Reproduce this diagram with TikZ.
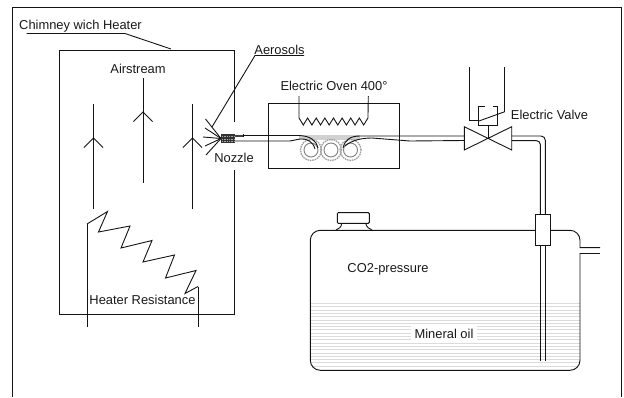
\documentclass[tikz,border=0pt]{standalone}
\usepackage{fontspec}
\setmainfont{Liberation Sans}
\tikzset{
  px/.style={x=1pt,y=-1pt},
  ln/.style={draw=black!92,line width=0.95pt,line cap=butt,line join=miter},
  thin ln/.style={draw=black!92,line width=0.9pt},
  lab/.style={inner sep=0pt,text=black!90,font=\fontsize{12.9}{14}\selectfont},
  hatchline/.style={draw=black!14,line width=0.9pt},
  coil/.style={draw=black!38,line width=1.3pt,dash pattern=on 1.6pt off 0.8pt},
  coilin/.style={draw=black!50,line width=0.9pt}
}
\begin{document}
\begin{tikzpicture}[px]
\useasboundingbox (0,0) rectangle (624,397);
% outer frame
\draw[ln] (12.5,397) -- (12.5,7.5) -- (621.5,7.5) -- (621.5,397);
% chimney
\draw[ln] (234.3,122) -- (234.3,50.5) -- (59.5,50.5) -- (59.5,314.7) -- (234.3,314.7) -- (234.3,170);
\draw[thin ln] (26.5,33.5) -- (125,33.5) -- (171,49);
% airstream arrows
\foreach \ax/\ay in {93.5/104,143/78,192.5/104}{
  \draw[ln] (\ax,\ay) -- (\ax,\ay+105);
  \draw[thin ln] (\ax-9.5,\ay+43.5) -- (\ax,\ay+34) -- (\ax+9.5,\ay+43.5);
}
% heater resistance
\draw[ln] (87,327) -- (87,224);
\draw[thin ln] (87,224) -- (107.5,211.5) -- (98.5,232) -- (130,226) -- (121,248) -- (152,240.5) -- (143,262) -- (174.5,255) -- (165.5,278) -- (196,270.5) -- (185,293.5) -- (198,286.5);
\draw[ln] (198,286.5) -- (198,327);
% aerosols leader and spray
\draw[thin ln] (304,55.5) -- (255,55.5) -- (212,127);
\foreach \sx/\sy in {205.5/119,205/128,203/137,205/146,206/155}{
  \draw[thin ln] (221,138.5) -- (\sx,\sy);
}
% coils
\fill[black!18] (299,135) rectangle (360,140);
\foreach \cx in {311,331,350.5}{
  \draw[coil] (\cx,150) circle[radius=10.5pt];
  \draw[coilin] (\cx,150) circle[radius=7pt];
}
% pipe to nozzle and through oven
\draw[thin ln] (243,135.5) -- (299,135.5) .. controls (310,136) and (316,140) .. (318,148);
\draw[thin ln] (234.5,141) -- (290,141) -- (300,139) .. controls (308,138.5) and (313,142) .. (315,149);
\draw[thin ln] (343,148) .. controls (345,140) and (350,136) .. (360,136) -- (464.3,136);
\draw[thin ln] (345,146) .. controls (352,140) and (362,138) .. (372,138) -- (410,141) -- (464.3,140.5);
\draw[line width=1.5pt,draw=black!75] (234.5,136) -- (243,136);
\draw[thin ln] (243,134) -- (243,137);
% nozzle
\fill[black!80] (221,134) rectangle (234.5,143.3);
\draw[draw=black!35,line width=0.7pt,dash pattern=on 0.8pt off 0.9pt] (222,136.5) -- (234,136.5);
\draw[draw=black!35,line width=0.7pt,dash pattern=on 0.8pt off 0.9pt] (222,139) -- (234,139);
\draw[draw=black!35,line width=0.7pt,dash pattern=on 0.8pt off 0.9pt] (222,141.5) -- (234,141.5);
% oven
\draw[ln] (268.3,103.3) rectangle (399.3,168.3);
\draw[thin ln] (299,96) -- (299,118) -- ++(4.31,7) -- ++(4.31,-7) -- ++(4.31,7) -- ++(4.31,-7) -- ++(4.31,7) -- ++(4.31,-7) -- ++(4.31,7) -- ++(4.31,-7) -- ++(4.31,7) -- ++(4.31,-7) -- ++(4.31,7) -- ++(4.31,-7) -- ++(4.31,7) -- ++(4.31,-7) -- ++(4.31,7) -- ++(4.31,-7) -- (368.3,96);
% valve
\draw[thin ln] (464.3,126.7) -- (464.3,150) -- (511.7,126.7) -- (511.7,150) -- cycle;
\draw[ln] (488,138.3) -- (488,125.3);
\draw[thin ln] (485,106.7) -- (478.7,106.7) -- (478.7,125.3) -- (497.3,125.3) -- (497.3,106.7) -- (493.3,106.7);
\draw[thin ln] (469.7,67.3) -- (469.7,120) -- (479,120);
\draw[thin ln] (479,121) -- (504.7,111.7);
\draw[ln] (504.7,67.3) -- (504.7,111.7);
% pipe to tank
\draw[ln] (511.7,136) -- (541,136) arc[start angle=90,end angle=0,radius=4.3pt] -- (545.3,214);
\draw[ln] (511.7,140.7) -- (536.5,140.7) arc[start angle=90,end angle=0,radius=3.8pt] -- (540.3,214);
% tank
\begin{scope}
\clip[rounded corners=10pt] (310.3,230.3) rectangle (580,370.3);
\foreach \hy in {303.5,306.8,...,369}{
  \draw[hatchline] (310,\hy) -- (580,\hy);
}
\end{scope}
\draw[ln,rounded corners=10pt] (535.3,230.3) -- (310.3,230.3) -- (310.3,370.3) -- (580,370.3) -- (580,253);
\draw[ln] (550.7,230.3) -- (570,230.3) arc[start angle=90,end angle=0,radius=10pt] -- (580,247.7) -- (600,247.7);
\draw[ln] (580,253) -- (600,253);
% inner tube
\draw[ln] (540.3,245.3) -- (540.3,360.7);
\draw[ln] (545.7,245.3) -- (545.7,360.7);
\draw[ln,fill=white] (535.3,214) rectangle (550.7,245.3);
% cap
\draw[ln,rounded corners=1pt] (337.3,212.7) rectangle (369.3,223.3);
\draw[thin ln] (341.7,223.3) .. controls (341.5,227) and (339,229) .. (336,230);
\draw[thin ln] (365.7,223.3) .. controls (366.5,227) and (369,229) .. (372,230);
% labels
\node[lab] (chimneylabel) at (80.5,26) {Chimney wich Heater};
\node[lab] (airlabel) at (138,68.5) {Airstream};
\node[lab] (aerolabel) at (279.5,49.5) {Aerosols};
\node[lab] (ovenlabel) at (334,85.7) {Electric Oven 400°};
\node[lab] (nozzlelabel) at (234,157.7) {Nozzle};
\node[lab,anchor=west] (valvelabel) at (510.7,114.7) {Electric Valve};
\node[lab] (heaterlabel) at (142.5,300) {Heater Resistance};
\node[lab] (co2label) at (388,269.3) {CO2-pressure};
\node[lab,fill=white,inner xsep=4pt,inner ysep=3pt] (oillabel) at (444,333.7) {Mineral oil};
\end{tikzpicture}
\end{document}
